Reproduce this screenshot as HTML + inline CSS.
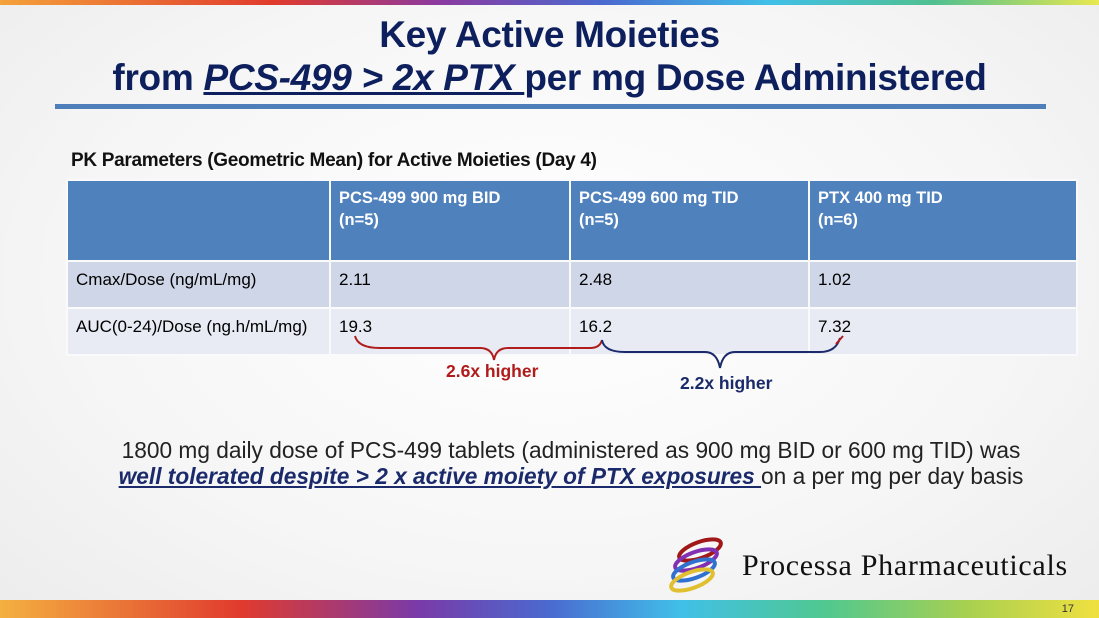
<!DOCTYPE html>
<html><head><meta charset="utf-8"><style>
body{margin:0;width:1099px;height:618px;overflow:hidden;font-family:"Liberation Sans",sans-serif;background:radial-gradient(ellipse at 50% 45%,#ffffff 0%,#f6f6f6 60%,#ececec 100%);position:relative}
.top{position:absolute;left:0;top:0;width:1099px;height:5px;background:linear-gradient(90deg,#f4a23a,#e03a2e 25%,#8a3aa0 40%,#4a6ad0 55%,#40c0e8 70%,#50c090 85%,#e8e850)}
.bot{position:absolute;left:0;top:600px;width:1099px;height:18px;background:linear-gradient(90deg,#f4b040 0%,#e03a2e 22%,#7a3aa8 38%,#4a6ad0 50%,#40c0e8 62%,#50c890 75%,#a8d050 88%,#f0e040 100%)}
.num{position:absolute;right:25px;top:603px;font-size:11px;color:#333}
h1{position:absolute;left:0;width:1099px;top:13px;margin:0;text-align:center;font-size:37px;line-height:43px;color:#0d1f5c;font-weight:bold;letter-spacing:-0.3px}
.rule{position:absolute;left:55px;top:104px;width:991px;height:5px;background:#4e7fbb}
.cap{position:absolute;left:71px;top:150px;font-size:19px;font-weight:bold;color:#111;letter-spacing:-0.3px}
table{position:absolute;left:66px;top:179px;border-collapse:collapse;width:1012px;font-size:17px}
td{padding:0 8px;vertical-align:top;border:2px solid #fafafa;box-sizing:border-box}
tr.h td{background:#4f81bd;color:#fff;font-weight:bold;height:81px;padding-top:6px;line-height:22px;font-size:16.5px}
tr.a td{background:#cfd6e7;height:47px;padding-top:8px}
tr.b td{background:#e8ebf4;height:47px;padding-top:8px}
.t{position:absolute;font-weight:bold;font-size:17.5px}
.body{position:absolute;left:0;width:1142px;top:437px;text-align:center;font-size:22.7px;line-height:26px;color:#222}
.logo{position:absolute;left:742px;top:549px;font-family:"Liberation Serif",serif;font-size:30px;color:#111;letter-spacing:0.7px}
</style></head><body>
<div class="top"></div>
<h1>Key Active Moieties<br>from <i><u>PCS-499 &gt; 2x PTX </u></i>per mg Dose Administered</h1>
<div class="rule"></div>
<div class="cap">PK Parameters (Geometric Mean) for Active Moieties (Day 4)</div>
<table>
<tr class="h"><td style="width:263px"></td><td style="width:240px">PCS-499 900 mg BID<br>(n=5)</td><td style="width:239px">PCS-499 600 mg TID<br>(n=5)</td><td>PTX 400 mg TID<br>(n=6)</td></tr>
<tr class="a"><td>Cmax/Dose (ng/mL/mg)</td><td>2.11</td><td>2.48</td><td>1.02</td></tr>
<tr class="b"><td>AUC(0-24)/Dose (ng.h/mL/mg)</td><td>19.3</td><td>16.2</td><td>7.32</td></tr>
</table>
<svg style="position:absolute;left:0;top:0" width="1099" height="618">
<path d="M355 336 Q358 348 380 348 L480 348 Q492 348 494 360 Q496 348 508 348 L590 348 Q600 348 602 340" fill="none" stroke="#b01c1c" stroke-width="2"/>
<path d="M602 340 Q604 352 625 352 L705 352 Q717 352 720 368 Q723 352 735 352 L820 352 Q836 352 840 338" fill="none" stroke="#1a2a6a" stroke-width="2"/>
<path d="M836 344 L843 336" stroke="#b01c1c" stroke-width="2"/>
</svg>
<div class="t" style="left:446px;top:361px;color:#b01c1c">2.6x higher</div>
<div class="t" style="left:680px;top:373px;color:#1a2a6a">2.2x higher</div>
<div class="body">1800 mg daily dose of PCS-499 tablets (administered as 900 mg BID or 600 mg TID) was<br><b><i><u style="color:#1a2a6a">well tolerated despite &gt; 2 x active moiety of PTX exposures </u></i></b>on a per mg per day basis</div>
<svg style="position:absolute;left:664px;top:536px" width="66" height="58">
<ellipse cx="36" cy="14" rx="22" ry="8" fill="none" stroke="#a01818" stroke-width="4" transform="rotate(-20 36 14)"/>
<ellipse cx="32" cy="24" rx="22" ry="8" fill="none" stroke="#8030b0" stroke-width="4" transform="rotate(-20 32 24)"/>
<ellipse cx="30" cy="34" rx="22" ry="8" fill="none" stroke="#3070d0" stroke-width="4" transform="rotate(-20 30 34)"/>
<ellipse cx="28" cy="44" rx="22" ry="8" fill="none" stroke="#e0c030" stroke-width="4" transform="rotate(-20 28 44)"/>
</svg>
<div class="logo">Processa Pharmaceuticals</div>
<div class="bot"></div>
<div class="num">17</div>
</body></html>
